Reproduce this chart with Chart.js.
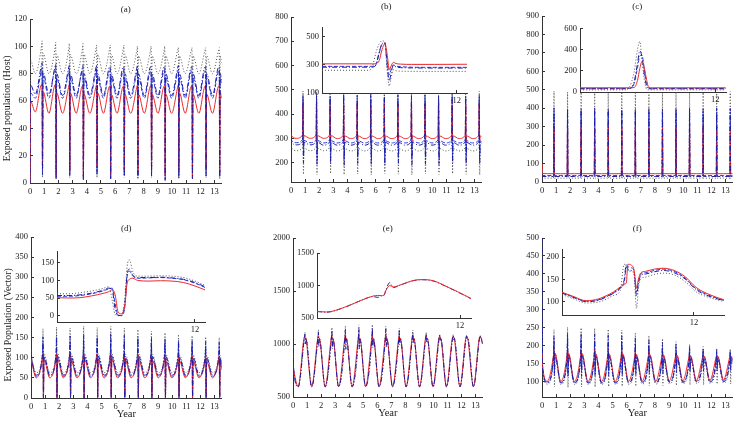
<!DOCTYPE html>
<html>
<head>
<meta charset="utf-8">
<title>Exposed population panels</title>
<script src="https://cdn.jsdelivr.net/npm/chart.js@4.4.1/dist/chart.umd.min.js"></script>
<style>
    html, body { margin: 0; padding: 0; background: #fff; }
    body { width: 736px; height: 421px; position: relative; overflow: hidden; }
    canvas { position: absolute; }
</style>
</head>
<body>
<script>
// ---- data -------------------------------------------------------------

// shared time grid (years) for the six main panels
const tMain = [0, 0.03,
    0.37, 0.82, 0.85, 0.88, 0.92,
    1.33, 1.78, 1.81, 1.84, 1.88,
    2.29, 2.74, 2.77, 2.80, 2.84,
    3.25, 3.70, 3.73, 3.76, 3.80,
    4.21, 4.66, 4.69, 4.72, 4.76,
    5.17, 5.62, 5.65, 5.68, 5.72,
    6.13, 6.58, 6.61, 6.64, 6.68,
    7.09, 7.54, 7.57, 7.60, 7.64,
    8.05, 8.50, 8.53, 8.56, 8.60,
    9.01, 9.46, 9.49, 9.52, 9.56,
    9.97, 10.42, 10.45, 10.48, 10.52,
    10.93, 11.38, 11.41, 11.44, 11.48,
    11.89, 12.34, 12.37, 12.40, 12.44,
    12.85, 13.30, 13.33, 13.36, 13.40,
    13.50];
const xTicksMain = [0, 1, 2, 3, 4, 5, 6, 7, 8, 9, 10, 11, 12, 13];
const xTicksInset = [12];

// (a) exposed host
const aYTicks = [0, 20, 40, 60, 80, 100, 120];
const aRed = [0, 60,
    52, 72, 72, 16, 67,  51, 72, 72, 6, 66,  51, 71, 72, 9, 66,  51, 71, 71, 5, 65,
    51, 71, 72, 12, 66,  51, 71, 71, 6, 65,  51, 71, 71, 10, 65,  51, 71, 72, 8, 65,
    51, 71, 71, 11, 65,  51, 71, 71, 6, 65,  51, 71, 72, 9, 66,  51, 71, 71, 5, 65,
    51, 71, 71, 10, 65,  51, 71, 71, 8, 66,
    62];
const aDash = [0, 66,
    62, 83, 84, 9, 78,  62, 83, 83, 4, 77,  62, 82, 83, 7, 77,  62, 82, 82, 3, 77,
    62, 82, 83, 8, 77,  62, 82, 82, 4, 77,  62, 82, 82, 6, 77,  62, 82, 83, 5, 77,
    62, 82, 82, 7, 77,  62, 82, 82, 3, 77,  62, 82, 83, 6, 77,  62, 82, 82, 4, 77,
    62, 82, 82, 7, 77,  62, 82, 82, 5, 77,
    72];
const aDashDot = [0, 72,
    65, 87, 88, 6, 81,  65, 86, 87, 3, 80,  64, 85, 86, 5, 80,  64, 85, 86, 2, 80,
    64, 85, 86, 6, 80,  64, 85, 85, 3, 80,  64, 85, 85, 5, 80,  64, 85, 86, 4, 80,
    64, 85, 85, 5, 80,  64, 85, 85, 2, 80,  64, 85, 86, 4, 80,  64, 85, 85, 3, 80,
    64, 85, 85, 5, 80,  64, 85, 85, 4, 80,
    75];
const aDot = [0, 90,
    80, 101, 104, 4, 95,  80, 100, 103, 3, 94,  80, 99, 102, 4, 94,  80, 99, 102, 2, 94,
    80, 99, 101, 4, 94,  80, 99, 101, 3, 94,  80, 99, 101, 4, 94,  80, 98, 100, 3, 93,
    80, 98, 100, 4, 93,  80, 98, 100, 2, 93,  80, 98, 99, 3, 93,  80, 98, 99, 3, 93,
    80, 98, 99, 4, 93,  80, 98, 99, 3, 93,
    88];

// (b)
const bYTicks = [200, 300, 400, 500, 600, 700, 800];
const bRed = [320, 312,
    300, 314, 440, 291, 311,  300, 314, 448, 290, 311,  300, 314, 444, 290, 311,  299, 313, 440, 289, 310,
    299, 313, 446, 290, 310,  299, 313, 440, 289, 310,  299, 313, 447, 290, 310,  299, 313, 441, 289, 310,
    299, 313, 440, 290, 310,  299, 313, 444, 289, 310,  299, 313, 446, 290, 310,  299, 313, 440, 289, 310,
    299, 313, 442, 290, 310,  299, 313, 440, 289, 310,
    306];
const bDash = [300, 293,
    282, 295, 462, 230, 291,  282, 295, 466, 222, 291,  281, 294, 460, 226, 290,  281, 294, 464, 220, 290,
    281, 294, 460, 228, 290,  281, 294, 465, 224, 290,  281, 294, 461, 221, 290,  281, 294, 463, 227, 290,
    281, 294, 460, 223, 290,  281, 294, 462, 229, 290,  281, 294, 460, 222, 290,  281, 294, 464, 226, 290,
    281, 294, 461, 224, 290,  281, 294, 460, 228, 290,
    287];
const bDashDot = [800, 288,
    273, 287, 478, 198, 284,  273, 287, 482, 190, 284,  272, 286, 476, 195, 283,  272, 286, 480, 188, 283,
    272, 286, 477, 196, 283,  272, 286, 483, 192, 283,  272, 286, 478, 189, 283,  272, 286, 480, 197, 283,
    272, 286, 476, 191, 283,  272, 286, 479, 194, 283,  272, 286, 477, 190, 283,  272, 286, 481, 196, 283,
    272, 286, 476, 192, 283,  272, 286, 478, 195, 283,
    280];
const bDot = [270, 263,
    249, 263, 495, 152, 259,  249, 263, 498, 150, 259,  249, 263, 494, 155, 259,  248, 262, 497, 151, 258,
    248, 262, 493, 153, 258,  248, 262, 496, 150, 258,  248, 262, 495, 154, 258,  248, 262, 492, 152, 258,
    248, 262, 496, 150, 258,  248, 262, 494, 153, 258,  248, 262, 497, 151, 258,  248, 262, 493, 155, 258,
    248, 262, 495, 152, 258,  248, 262, 494, 150, 258,
    256];
const bInsetX = [0, 4.2, 4.5, 4.8, 5.1, 5.35, 5.6, 5.8, 6.0, 6.15, 6.35, 6.6, 7.0, 8.0, 10.0, 12.92];
const bInsetYTicks = [100, 300, 500];
const bInsetRed = [308, 308, 308, 310, 332, 410, 452, 380, 268, 292, 318, 310, 306, 304, 304, 305];
const bInsetDash = [290, 290, 291, 302, 385, 448, 455, 330, 228, 270, 300, 292, 288, 284, 283, 283];
const bInsetDashDot = [284, 284, 285, 300, 392, 452, 460, 300, 185, 240, 296, 286, 281, 279, 278, 278];
const bInsetDot = [262, 262, 292, 385, 452, 472, 462, 262, 150, 205, 266, 258, 256, 254, 254, 254];

// (c)
const cYTicks = [0, 100, 200, 300, 400, 500, 600, 700, 800, 900];
const cRed = [100, 46,
    45, 45, 300, 44, 45,  45, 45, 296, 44, 45,  45, 45, 302, 44, 45,  45, 45, 298, 44, 45,
    45, 45, 300, 44, 45,  45, 45, 297, 44, 45,  45, 45, 301, 44, 45,  45, 45, 299, 44, 45,
    45, 45, 296, 44, 45,  45, 45, 300, 44, 45,  45, 45, 298, 44, 45,  45, 45, 302, 44, 45,
    45, 45, 299, 44, 45,  45, 45, 300, 44, 45,
    45];
const cDash = [40, 35,
    35, 35, 380, 34, 35,  35, 35, 374, 34, 35,  35, 35, 382, 34, 35,  35, 35, 376, 34, 35,
    35, 35, 380, 34, 35,  35, 35, 377, 34, 35,  35, 35, 381, 34, 35,  35, 35, 375, 34, 35,
    35, 35, 379, 34, 35,  35, 35, 383, 34, 35,  35, 35, 376, 34, 35,  35, 35, 380, 34, 35,
    35, 35, 378, 34, 35,  35, 35, 381, 34, 35,
    35];
const cDashDot = [35, 30,
    30, 30, 402, 29, 30,  30, 30, 396, 29, 30,  30, 30, 400, 29, 30,  30, 30, 404, 29, 30,
    30, 30, 398, 29, 30,  30, 30, 401, 29, 30,  30, 30, 397, 29, 30,  30, 30, 403, 29, 30,
    30, 30, 399, 29, 30,  30, 30, 400, 29, 30,  30, 30, 402, 29, 30,  30, 30, 397, 29, 30,
    30, 30, 401, 29, 30,  30, 30, 399, 29, 30,
    30];
const cDot = [25, 21,
    21, 21, 492, 20, 21,  21, 21, 488, 20, 21,  21, 21, 494, 20, 21,  21, 21, 490, 20, 21,
    21, 21, 493, 20, 21,  21, 21, 489, 20, 21,  21, 21, 491, 20, 21,  21, 21, 494, 20, 21,
    21, 21, 488, 20, 21,  21, 21, 492, 20, 21,  21, 21, 490, 20, 21,  21, 21, 493, 20, 21,
    21, 21, 489, 20, 21,  21, 21, 491, 20, 21,
    21];
const cInsetX = [0, 4.0, 4.4, 4.8, 5.1, 5.3, 5.5, 5.7, 5.9, 6.1, 6.4, 8, 12.92];
const cInsetYTicks = [0, 200, 400, 600];
const cInsetRed = [40, 40, 40, 42, 110, 220, 288, 230, 120, 45, 40, 40, 40];
const cInsetDash = [33, 33, 34, 80, 230, 340, 350, 220, 90, 35, 33, 33, 33];
const cInsetDashDot = [30, 30, 32, 95, 270, 390, 330, 170, 60, 31, 30, 30, 30];
const cInsetDot = [20, 20, 50, 190, 400, 478, 300, 120, 30, 20, 20, 20, 20];

// (d) exposed vector
const dYTicks = [0, 50, 100, 150, 200, 250, 300, 350, 400];
const dRed = [95, 92,
    50, 100, 110, 4, 95,  50, 100, 112, 3, 95,  50, 100, 110, 5, 94,  50, 100, 111, 3, 95,
    50, 100, 110, 4, 94,  50, 100, 112, 3, 95,  50, 99, 110, 5, 94,  50, 99, 109, 3, 94,
    50, 99, 108, 4, 93,  50, 98, 107, 3, 93,  50, 97, 106, 5, 92,  50, 97, 105, 3, 92,
    50, 96, 105, 4, 91,  50, 96, 104, 3, 91,
    70];
const dDash = [105, 98,
    54, 106, 138, 1, 100,  54, 106, 142, 2, 100,  54, 106, 140, 1, 100,  54, 106, 144, 0, 100,
    54, 106, 141, 2, 100,  54, 106, 145, 1, 100,  54, 105, 142, 0, 99,  54, 105, 140, 2, 99,
    54, 105, 138, 1, 99,  54, 104, 136, 0, 98,  54, 103, 134, 2, 97,  54, 103, 132, 1, 97,
    54, 102, 130, 0, 96,  54, 102, 128, 1, 96,
    75];
const dDashDot = [110, 102,
    57, 110, 152, 0, 104,  57, 110, 156, 0, 104,  57, 110, 154, 0, 104,  57, 110, 158, 0, 104,
    57, 110, 155, 0, 104,  57, 110, 160, 0, 104,  57, 109, 156, 0, 103,  57, 109, 153, 0, 103,
    57, 109, 150, 0, 103,  57, 108, 147, 0, 102,  57, 107, 144, 0, 101,  57, 107, 142, 0, 101,
    57, 106, 140, 0, 100,  57, 106, 138, 0, 100,
    80];
const dDot = [118, 108,
    63, 116, 172, 0, 110,  63, 116, 176, 0, 110,  63, 116, 174, 0, 110,  63, 116, 178, 0, 110,
    63, 116, 175, 0, 110,  63, 116, 178, 0, 110,  63, 115, 174, 0, 109,  63, 115, 170, 0, 109,
    63, 115, 166, 0, 109,  63, 114, 162, 0, 108,  63, 113, 158, 0, 107,  63, 113, 155, 0, 107,
    63, 112, 152, 0, 106,  63, 112, 150, 0, 106,
    86];
const dInsetX = [0, 1, 2, 3, 4, 4.5, 4.8, 5.05, 5.3, 5.6, 5.9, 6.1, 6.3, 6.6, 7, 8, 9, 10, 11, 12, 12.87];
const dInsetYTicks = [0, 50, 100, 150];
const dInsetRed = [51, 50, 51, 56, 63, 68, 74, 60, 12, 5, 30, 92, 103, 106, 100, 98, 99, 98, 94, 84, 73];
const dInsetDash = [55, 55, 57, 62, 70, 76, 78, 35, 3, 0, 25, 110, 126, 112, 106, 107, 108, 106, 102, 92, 80];
const dInsetDashDot = [57, 57, 59, 64, 72, 78, 72, 20, 1, 0, 35, 118, 132, 114, 108, 108, 109, 107, 103, 94, 82];
const dInsetDot = [62, 62, 65, 70, 77, 82, 45, 4, 0, 0, 50, 140, 158, 124, 112, 112, 113, 112, 108, 98, 86];

// (e)
const eYTicks = [500, 1000, 1500, 2000];
const eRed = [780, 760,
    598, 1070, 1072, 1066, 1056,  598, 1070, 1078, 1060, 1056,  598, 1070, 1084, 1045, 1055,  598, 1069, 1090, 1035, 1055,
    598, 1069, 1094, 1028, 1055,  598, 1069, 1096, 1025, 1055,  598, 1069, 1092, 1030, 1055,  598, 1069, 1086, 1040, 1055,
    598, 1069, 1080, 1050, 1056,  598, 1070, 1075, 1058, 1056,  598, 1070, 1073, 1063, 1056,  598, 1070, 1072, 1065, 1056,
    598, 1070, 1072, 1066, 1056,  598, 1070, 1072, 1066, 1056,
    1000];
const eBlue = [2000, 800,
    595, 1068, 1090, 1000, 1050,  595, 1068, 1110, 975, 1048,  595, 1067, 1125, 955, 1046,  595, 1067, 1135, 950, 1046,
    595, 1067, 1145, 955, 1046,  595, 1067, 1150, 965, 1046,  595, 1067, 1140, 975, 1047,  595, 1067, 1125, 990, 1048,
    595, 1067, 1110, 1005, 1049,  595, 1068, 1095, 1020, 1050,  595, 1068, 1085, 1035, 1052,  595, 1068, 1080, 1042, 1052,
    595, 1068, 1076, 1048, 1052,  595, 1068, 1074, 1052, 1052,
    995];
const eDot = [1200, 790,
    600, 1072, 1110, 1030, 1054,  600, 1072, 1135, 1010, 1052,  600, 1071, 1155, 995, 1050,  600, 1071, 1170, 990, 1050,
    600, 1071, 1180, 995, 1050,  600, 1071, 1182, 1000, 1050,  600, 1071, 1170, 1010, 1051,  600, 1071, 1150, 1020, 1052,
    600, 1071, 1130, 1030, 1053,  600, 1072, 1110, 1040, 1054,  600, 1072, 1095, 1048, 1055,  600, 1072, 1088, 1052, 1055,
    600, 1072, 1082, 1056, 1055,  600, 1072, 1080, 1058, 1055,
    1002];
const eInsetX = [0, 0.8, 2.3, 3.7, 4.7, 5.1, 5.4, 5.6, 5.8, 6.1, 6.4, 7.0, 8.0, 8.8, 9.8, 10.7, 11.8, 12.92];
const eInsetYTicks = [500, 1000, 1500];
const eInsetRed = [603, 592, 665, 772, 838, 848, 845, 850, 930, 1000, 978, 1010, 1075, 1092, 1072, 1000, 905, 800];
const eInsetBlue = [600, 590, 663, 770, 830, 818, 840, 845, 945, 1045, 970, 1008, 1072, 1090, 1068, 997, 902, 798];

// (f)
const fYTicks = [100, 150, 200, 250, 300, 350, 400, 450, 500];
const fRed = [180, 150,
    102, 176, 188, 168, 180,  101, 176, 190, 166, 180,  101, 175, 189, 168, 179,  101, 175, 188, 168, 179,
    101, 175, 187, 168, 178,  101, 175, 186, 169, 178,  101, 174, 184, 169, 177,  102, 174, 182, 170, 176,
    102, 173, 180, 170, 175,  103, 172, 178, 170, 174,  103, 171, 176, 170, 173,  104, 170, 175, 170, 172,
    104, 170, 174, 170, 172,  105, 170, 174, 170, 172,
    162];
const fDash = [250, 146,
    100, 174, 212, 128, 177,  99, 174, 218, 125, 177,  99, 173, 215, 126, 176,  99, 173, 214, 126, 176,
    99, 173, 212, 128, 175,  99, 172, 210, 128, 175,  99, 172, 206, 130, 174,  100, 171, 202, 132, 173,
    100, 170, 198, 134, 172,  101, 169, 194, 136, 171,  101, 168, 190, 138, 170,  102, 168, 186, 140, 170,
    102, 167, 184, 140, 169,  103, 167, 182, 142, 169,
    158];
const fDashDot = [500, 142,
    98, 172, 228, 118, 174,  97, 172, 236, 114, 174,  97, 171, 234, 115, 173,  97, 171, 233, 116, 173,
    97, 171, 230, 117, 172,  97, 170, 228, 118, 172,  97, 170, 222, 120, 171,  98, 169, 216, 122, 170,
    98, 168, 210, 124, 169,  99, 167, 204, 126, 168,  99, 166, 198, 128, 167,  100, 166, 192, 130, 167,
    100, 165, 188, 130, 166,  101, 165, 186, 132, 166,
    155];
const fDot = [200, 136,
    94, 164, 245, 86, 168,  93, 164, 252, 85, 168,  93, 163, 250, 86, 167,  93, 163, 248, 86, 167,
    93, 163, 246, 87, 166,  93, 162, 244, 88, 166,  93, 162, 236, 88, 165,  94, 161, 228, 89, 164,
    94, 160, 220, 90, 163,  95, 159, 212, 90, 162,  95, 158, 204, 92, 161,  96, 158, 198, 92, 161,
    96, 157, 194, 94, 160,  97, 157, 192, 94, 160,
    150];
const fInsetX = [0, 1, 2.2, 3.3, 4.0, 4.7, 5.3, 5.65, 5.85, 6.0, 6.3, 6.55, 6.78, 6.95, 7.15, 7.6, 8.4, 9.2, 10.2, 11.2, 12.2, 13.3, 14.74];
const fInsetYTicks = [100, 150, 200];
const fInsetRed = [121, 112, 102, 106, 113, 122, 133, 139, 142, 184, 182, 172, 130, 150, 164, 168, 173, 175, 170, 156, 132, 117, 104];
const fInsetDash = [120, 111, 101, 104, 111, 120, 131, 142, 176, 178, 176, 170, 122, 145, 161, 165, 170, 173, 168, 153, 129, 115, 103];
const fInsetDashDot = [119, 110, 100, 103, 110, 119, 130, 148, 184, 172, 170, 168, 113, 140, 158, 162, 167, 170, 165, 151, 127, 113, 102];
const fInsetDot = [116, 107, 97, 99, 105, 114, 125, 184, 178, 170, 168, 160, 85, 130, 150, 155, 161, 164, 160, 145, 122, 110, 100];

// ---- drawing ----------------------------------------------------------

const FONT = 'Liberation Serif';
const INK = '#1a1a1a';
// a few no-break spaces at the end push the rotated y titles down a bit, as in the figure
const NUDGE = '\u00a0\u00a0\u00a0\u00a0\u00a0\u00a0';

const LINE = {
    red: { borderColor: '#ec2a2a', borderDash: [] },
    dash: { borderColor: '#2a3ce0', borderDash: [4, 2] },
    dashdot: { borderColor: '#1c1ca6', borderDash: [5, 2, 1, 2] },
    dot: { borderColor: '#555555', borderDash: [1, 2] }
};

// white plot box behind an inset, hides the main curves under it
const insetBackground = {
    id: 'insetBackground',
    beforeDraw(chart) {
        const a = chart.chartArea;
        chart.ctx.save();
        chart.ctx.fillStyle = '#ffffff';
        chart.ctx.fillRect(a.left, a.top, a.right - a.left, a.bottom - a.top);
        chart.ctx.restore();
    }
};

function makeLine(xs, ys, style) {
    return Object.assign({
        data: xs.map((x, i) => ({ x: x, y: ys[i] })),
        borderWidth: 1,
        pointRadius: 0,
        fill: false,
        cubicInterpolationMode: 'monotone'
    }, LINE[style]);
}

function addCanvas(left, top, width, height) {
    const c = document.createElement('canvas');
    c.width = width;
    c.height = height;
    c.style.left = left + 'px';
    c.style.top = top + 'px';
    c.style.width = width + 'px';
    c.style.height = height + 'px';
    document.body.appendChild(c);
    return c;
}

function axis(min, max, ticks, fitSize, horizontal, padding) {
    return {
        type: 'linear',
        min: min,
        max: max,
        afterBuildTicks: s => { s.ticks = ticks.map(v => ({ value: v })); },
        afterFit: s => { if (horizontal) s.height = fitSize; else s.width = fitSize; },
        grid: { display: true, drawOnChartArea: false, drawTicks: true, tickLength: -3, color: '#333' },
        border: { display: true, color: '#333', width: 1 },
        ticks: {
            font: { family: FONT, size: 8.5 },
            color: INK,
            padding: padding,
            maxRotation: 0,
            autoSkip: false,
            callback: v => String(v)
        },
        title: { display: false }
    };
}

function drawPanel(p) {
    const yw = 30, pr = 4;
    const xh = p.xTitle ? 23 : 14;
    const lh = 9 * 1.2;
    const w = p.area.right - p.area.left;
    const canvas = addCanvas(p.area.left - yw, p.rowTop, yw + w + pr, p.area.bottom - p.rowTop + xh);

    const x = axis(0, 13.5, xTicksMain, xh, true, 7);
    const y = axis(p.yMin, p.yMax, p.yTicks, yw, false, 6);
    if (p.xTitle) {
        x.title = { display: true, text: p.xTitle, color: INK, font: { family: FONT, size: 10.5 }, padding: 0 };
    }
    if (p.yTitle) {
        y.title = { display: true, text: p.yTitle + NUDGE, color: INK, font: { family: FONT, size: 9.8 }, padding: { top: 2, bottom: 0 } };
    }

    new Chart(canvas, {
        type: 'line',
        data: { datasets: p.series.map(s => makeLine(tMain, s[0], s[1])) },
        options: {
            responsive: false,
            animation: false,
            events: [],
            layout: { padding: { top: 0, right: pr, bottom: 0, left: 0 } },
            plugins: {
                legend: { display: false },
                tooltip: { enabled: false },
                title: {
                    display: true,
                    text: p.title,
                    fullSize: false,
                    color: INK,
                    font: { family: FONT, size: 9, weight: 'normal' },
                    padding: { top: p.titleY - p.rowTop - lh / 2, bottom: p.area.top - p.titleY - lh / 2 }
                }
            },
            scales: { x: x, y: y }
        }
    });
}

function drawInset(p) {
    const yw = 22, xh = 12, pt = 5, pr = 3;
    const w = p.area.right - p.area.left;
    const h = p.area.bottom - p.area.top;
    const canvas = addCanvas(p.area.left - yw, p.area.top - pt, yw + w + pr, pt + h + xh);

    new Chart(canvas, {
        type: 'line',
        data: { datasets: p.series.map(s => makeLine(p.xs, s[0], s[1])) },
        options: {
            responsive: false,
            animation: false,
            events: [],
            layout: { padding: { top: pt, right: pr, bottom: 0, left: 0 } },
            plugins: { legend: { display: false }, tooltip: { enabled: false } },
            scales: {
                x: axis(0, p.xMax, xTicksInset, xh, true, 6),
                y: axis(p.yMin, p.yMax, p.yTicks, yw, false, 6)
            }
        },
        plugins: [insetBackground]
    });
}

// first series in each list is drawn on top
const panels = [
    { title: '(a)', rowTop: 0, titleY: 10, area: { left: 30, top: 19, right: 222, bottom: 183 },
      yMin: 0, yMax: 120, yTicks: aYTicks, yTitle: 'Exposed population (Host)',
      series: [[aDashDot, 'dashdot'], [aRed, 'red'], [aDash, 'dash'], [aDot, 'dot']] },
    { title: '(b)', rowTop: 0, titleY: 7, area: { left: 291, top: 17, right: 482, bottom: 182 },
      yMin: 120, yMax: 800, yTicks: bYTicks,
      series: [[bDashDot, 'dashdot'], [bRed, 'red'], [bDash, 'dash'], [bDot, 'dot']] },
    { title: '(c)', rowTop: 0, titleY: 7, area: { left: 542, top: 16, right: 733, bottom: 182 },
      yMin: 0, yMax: 900, yTicks: cYTicks,
      series: [[cDashDot, 'dashdot'], [cRed, 'red'], [cDash, 'dash'], [cDot, 'dot']] },
    { title: '(d)', rowTop: 215, titleY: 229, area: { left: 31, top: 237, right: 222, bottom: 398 },
      yMin: 0, yMax: 400, yTicks: dYTicks, yTitle: 'Exposed Population (Vector)', xTitle: 'Year',
      series: [[dDashDot, 'dashdot'], [dRed, 'red'], [dDash, 'dash'], [dDot, 'dot']] },
    { title: '(e)', rowTop: 215, titleY: 229, area: { left: 293, top: 238, right: 483, bottom: 397 },
      yMin: 500, yMax: 2000, yTicks: eYTicks, xTitle: 'Year',
      series: [[eBlue, 'dashdot'], [eRed, 'red'], [eDot, 'dot']] },
    { title: '(f)', rowTop: 215, titleY: 229, area: { left: 542, top: 238, right: 733, bottom: 397 },
      yMin: 58, yMax: 500, yTicks: fYTicks, xTitle: 'Year',
      series: [[fDashDot, 'dashdot'], [fRed, 'red'], [fDash, 'dash'], [fDot, 'dot']] }
];

const insets = [
    { area: { left: 322, top: 21, right: 467, bottom: 93 }, xs: bInsetX, xMax: 12.92,
      yMin: 100, yMax: 570, yTicks: bInsetYTicks,
      series: [[bInsetRed, 'red'], [bInsetDashDot, 'dashdot'], [bInsetDash, 'dash'], [bInsetDot, 'dot']] },
    { area: { left: 580, top: 22, right: 726, bottom: 92 }, xs: cInsetX, xMax: 12.95,
      yMin: 0, yMax: 605, yTicks: cInsetYTicks,
      series: [[cInsetRed, 'red'], [cInsetDashDot, 'dashdot'], [cInsetDash, 'dash'], [cInsetDot, 'dot']] },
    { area: { left: 57, top: 245, right: 205, bottom: 322 }, xs: dInsetX, xMax: 12.87,
      yMin: -18, yMax: 183, yTicks: dInsetYTicks,
      series: [[dInsetRed, 'red'], [dInsetDashDot, 'dashdot'], [dInsetDash, 'dash'], [dInsetDot, 'dot']] },
    { area: { left: 317, top: 247, right: 471, bottom: 318 }, xs: eInsetX, xMax: 12.92,
      yMin: 500, yMax: 1500, yTicks: eInsetYTicks,
      series: [[eInsetRed, 'red'], [eInsetBlue, 'dashdot']] },
    { area: { left: 562, top: 243, right: 724, bottom: 315 }, xs: fInsetX, xMax: 14.74,
      yMin: 70, yMax: 218, yTicks: fInsetYTicks,
      series: [[fInsetRed, 'red'], [fInsetDashDot, 'dashdot'], [fInsetDash, 'dash'], [fInsetDot, 'dot']] }
];

panels.forEach(drawPanel);
insets.forEach(drawInset);
</script>
</body>
</html>
